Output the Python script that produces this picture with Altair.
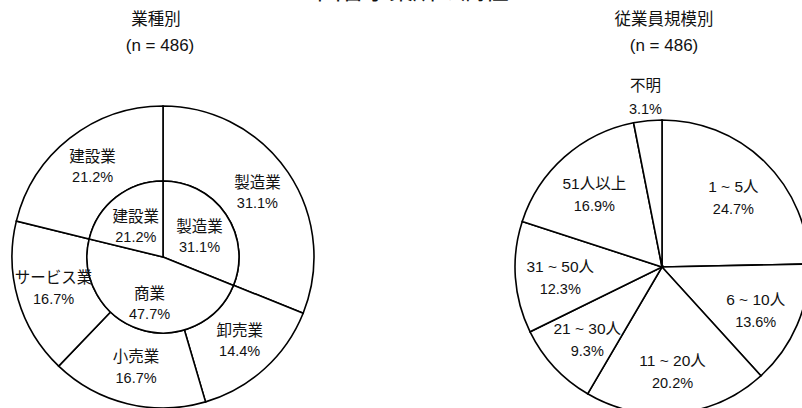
import altair as alt
import pandas as pd

# Left donut: industry
inner_labels = ["製造業", "商業", "建設業"]
inner_values = [31.1, 47.7, 21.2]
outer_labels = ["製造業", "卸売業", "小売業", "サービス業", "建設業"]
outer_values = [31.1, 14.4, 16.7, 16.7, 21.2]

# Right pie: employee size
size_labels = ["1 ~ 5人", "6 ~ 10人", "11 ~ 20人", "21 ~ 30人", "31 ~ 50人", "51人以上", "不明"]
size_values = [24.7, 13.6, 20.2, 9.3, 12.3, 16.9, 3.1]
outside_label = "不明"

left_title = ["業種別", "(n = 486)"]
right_title = ["従業員規模別", "(n = 486)"]
main_title = "回答事業所の属性"

FONT = "Liberation Sans, Noto Sans CJK JP, sans-serif"


def frame(labels, values, outside=None):
    rows = []
    for i, (l, v) in enumerate(zip(labels, values)):
        p = f"{v:.1f}%"
        out = (l == outside)
        rows.append({
            "label": l, "v": v, "o": i,
            "name": "" if out else l, "pct": "" if out else p,
            "name_x": l if out else "", "pct_x": p if out else "",
        })
    return pd.DataFrame(rows)


df_in = frame(inner_labels, inner_values)
df_out = frame(outer_labels, outer_values)
df_size = frame(size_labels, size_values, outside_label)

LCX, LCY = 163, 257
RCX, RCY = 662, 267


def arcs(df, cx, cy, r, r2=0):
    kw = dict(radius=r, fill="white", stroke="black", strokeWidth=1.6)
    if r2:
        kw["radius2"] = r2
    return alt.Chart(df).mark_arc(**kw).encode(
        theta=alt.Theta("v:Q", stack=True),
        order=alt.Order("o:Q"),
        x=alt.value(cx), y=alt.value(cy),
    )


def labels(df, cx, cy, r, name_f="name", pct_f="pct", dys=(-10.5, 11)):
    out = []
    for field, dy, size in ((name_f, dys[0], 15.5), (pct_f, dys[1], 14.5)):
        out.append(alt.Chart(df).mark_text(
            radius=r, dy=dy, font=FONT, fontSize=size,
            align="center", baseline="middle", color="#111",
        ).encode(
            theta=alt.Theta("v:Q", stack=True),
            order=alt.Order("o:Q"),
            text=f"{field}:N",
            x=alt.value(cx), y=alt.value(cy),
        ))
    return out


def title_text(text, x, y, size):
    return alt.Chart(pd.DataFrame({"t": [text]})).mark_text(
        font=FONT, fontSize=size, align="center", baseline="middle", color="#111"
    ).encode(text="t:N", x=alt.value(x), y=alt.value(y))


layers = [
    arcs(df_out, LCX, LCY, 151, 76),
    arcs(df_in, LCX, LCY, 76),
    arcs(df_size, RCX, RCY, 147),
    *labels(df_out, LCX, LCY, 114),
    *labels(df_in, LCX, LCY, 44, dys=(-5, 16)),
    *labels(df_size, RCX, RCY, 102, dys=(-7, 16)),
    *labels(df_size, RCX, RCY, 170, "name_x", "pct_x", dys=(-12, 12)),
    title_text(left_title[0], 156, 20, 16.5),
    title_text(left_title[1], 160, 46, 17),
    title_text(right_title[0], 664, 20, 16.5),
    title_text(right_title[1], 664, 46, 17),
    alt.Chart(pd.DataFrame({"t": [main_title]})).mark_text(
        font=FONT, fontSize=24, align="center", baseline="alphabetic", color="#111"
    ).encode(text="t:N", x=alt.value(413), y=alt.value(-1)),
]

chart = alt.layer(*layers).resolve_scale(theta="independent").properties(
    width=802, height=408, padding=0, autosize="none"
).configure_view(stroke=None)

chart.save("out.html", embed_options={"renderer": "svg", "actions": False})
